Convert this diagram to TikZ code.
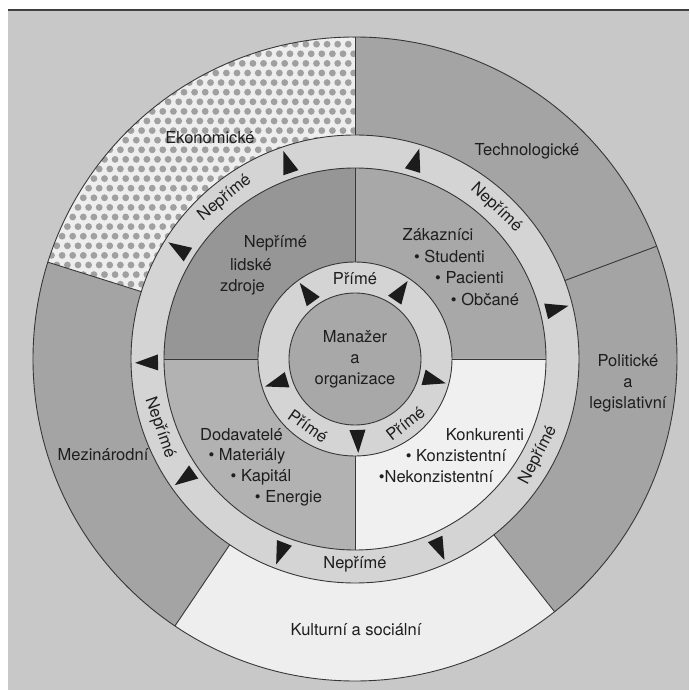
\documentclass[tikz,border=0pt]{standalone}
\usepackage{fontspec}
\setmainfont{TeX Gyre Heros}
\definecolor{pagebg}{RGB}{200,200,200}
\definecolor{segmid}{RGB}{164,164,164}
\definecolor{segpale}{RGB}{238,238,238}
\definecolor{ekobg}{RGB}{238,238,238}
\definecolor{ekodot}{RGB}{160,160,160}
\definecolor{ringc}{RGB}{212,212,212}
\definecolor{qtl}{RGB}{150,150,150}
\definecolor{qtr}{RGB}{168,168,168}
\definecolor{qbl}{RGB}{178,178,178}
\definecolor{qbr}{RGB}{240,240,240}
\definecolor{corec}{RGB}{168,168,168}
\definecolor{linec}{RGB}{55,55,55}
\definecolor{txtc}{RGB}{30,30,30}
\definecolor{arrc}{RGB}{28,28,28}
\newcommand\arrowhd[3]{\begin{scope}[shift={(#1:#2)}, rotate=#3]\fill[arrc] (13,0) -- (-10,8) -- (-10,-8) -- cycle;\end{scope}}
\begin{document}
\begin{tikzpicture}[x=1pt,y=1pt,
  lbl/.style={inner sep=0pt, text=txtc, font=\fontsize{16.5}{21}\selectfont},
  edge/.style={draw=linec, line width=0.9pt}]
\useasboundingbox (-355,-331) rectangle (334,359);
\fill[white] (-355,-331) rectangle (334,359);
\fill[pagebg] (-347,-331) rectangle (334,349);
\draw[line width=1.6pt, draw=black!75] (-347,349) -- (334,349);

% outer segments
\fill[segmid] (20.5:224) arc[start angle=20.5,end angle=90,radius=224] -- (90:322) arc[start angle=90,end angle=20.5,radius=322] -- cycle;
\fill[segmid] (-51.7:224) arc[start angle=-51.7,end angle=20.5,radius=224] -- (20.5:322) arc[start angle=20.5,end angle=-51.7,radius=322] -- cycle;
\fill[segpale] (236:224) arc[start angle=236,end angle=308.3,radius=224] -- (308.3:322) arc[start angle=308.3,end angle=236,radius=322] -- cycle;
\fill[segmid] (162.5:224) arc[start angle=162.5,end angle=236,radius=224] -- (236:322) arc[start angle=236,end angle=162.5,radius=322] -- cycle;
\begin{scope}
\clip (90:224) arc[start angle=90,end angle=162.5,radius=224] -- (162.5:322) arc[start angle=162.5,end angle=90,radius=322] -- cycle;
\fill[ekobg] (-330,0) rectangle (5,330);
\foreach \j in {0,...,34} {
  \foreach \i in {0,...,31} {
    \fill[ekodot] ({-330+10.6*\i+5.3*mod(\j,2)},{-2+9.6*\j}) circle[radius=3.4];
  }
}
\end{scope}

% Neprime ring
\fill[ringc] (0,0) circle[radius=224];
% quadrants
\fill[qtl] (90:97) arc[start angle=90,end angle=180,radius=97] -- (180:191) arc[start angle=180,end angle=90,radius=191] -- cycle;
\fill[qtr] (0:97) arc[start angle=0,end angle=90,radius=97] -- (90:191) arc[start angle=90,end angle=0,radius=191] -- cycle;
\fill[qbl] (180:97) arc[start angle=180,end angle=270,radius=97] -- (270:191) arc[start angle=270,end angle=180,radius=191] -- cycle;
\fill[qbr] (270:97) arc[start angle=270,end angle=360,radius=97] -- (0:191) arc[start angle=0,end angle=-90,radius=191] -- cycle;
% Prime ring and core
\fill[ringc] (0,0) circle[radius=97];
\fill[corec] (0,0) circle[radius=66];

% outlines
\draw[edge] (0,0) circle[radius=322];
\draw[edge] (0,0) circle[radius=224];
\draw[edge] (0,0) circle[radius=191];
\draw[edge] (0,0) circle[radius=97];
\draw[edge] (0,0) circle[radius=66];
\foreach \a in {90,20.5,-51.7,162.5,236} { \draw[edge] (\a:224) -- (\a:322); }
\foreach \a in {0,90,180,270} { \draw[edge] (\a:97) -- (\a:191); }

% outer labels
\node[lbl] (eko) at (-145,221) {Ekonomické};
\node[lbl] (tech) at (172,208) {Technologické};
\node[lbl, align=center] (pol) at (273,-24) {Politické\\a\\legislativní};
\node[lbl] (mez) at (-252,-96) {Mezinárodní};
\node[lbl] (kult) at (1,-271) {Kulturní a sociální};

% Neprime ring labels
\node[lbl, rotate=39] (n1) at (129:207) {Nepřímé};
\node[lbl, rotate=-43] (n2) at (47:207) {Nepřímé};
\node[lbl, rotate=62.3] (n3) at (-27.7:207) {Nepřímé};
\node[lbl, rotate=-70.6] (n4) at (199.4:207) {Nepřímé};
\node[lbl] (n5) at (-90:205) {Nepřímé};

% Prime ring labels
\node[lbl] (p1) at (90:80) {Přímé};
\node[lbl, rotate=-35] (p2) at (235:82) {Přímé};
\node[lbl, rotate=38] (p3) at (-52:82) {Přímé};

% core
\node[lbl, align=center] (core) at (0,0) {Manažer\\a\\organizace};

% quadrant texts
\node[lbl] (q1a) at (-79.5,116) {Nepřímé};
\node[lbl] (q1b) at (-104,94) {lidské};
\node[lbl] (q1c) at (-112.5,72) {zdroje};

\node[lbl] (q2a) at (83,124) {Zákazníci};
\node[lbl] (q2b) at (94.5,103) {\textbullet\ Studenti};
\node[lbl] (q2c) at (114.5,81) {\textbullet\ Pacienti};
\node[lbl] (q2d) at (130,60) {\textbullet\ Občané};

\node[lbl] (q3a) at (-113.5,-76) {Dodavatelé};
\node[lbl] (q3b) at (-108,-97) {\textbullet\ Materiály};
\node[lbl] (q3c) at (-94,-118) {\textbullet\ Kapitál};
\node[lbl] (q3d) at (-66.5,-139) {\textbullet\ Energie};

\node[lbl] (q4a) at (130,-76) {Konkurenti};
\node[lbl] (q4b) at (101,-97) {\textbullet\ Konzistentní};
\node[lbl] (q4c) at (81,-118) {\textbullet Nekonzistentní};

% inner arrowheads
\arrowhd{126}{81}{126}
\arrowhd{56}{81}{56}
\arrowhd{-15}{81}{-15}
\arrowhd{-88}{81}{-88}
\arrowhd{197}{81}{197}

% outer arrowheads
\arrowhd{73}{207}{73}
\arrowhd{109}{207}{109}
\arrowhd{148}{207}{148}
\arrowhd{14}{207}{14}
\arrowhd{181}{207}{181}
\arrowhd{215}{207}{215}
\arrowhd{249}{207}{249}
\arrowhd{-66}{207}{-66}
\end{tikzpicture}
\end{document}
